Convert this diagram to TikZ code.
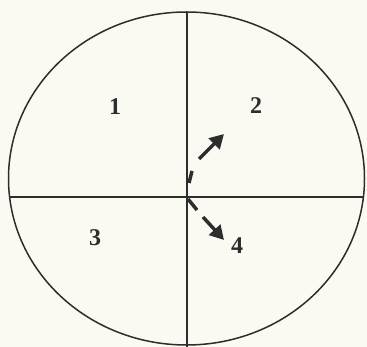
\documentclass[tikz,border=0pt]{standalone}
\usepackage{fontspec}
\setmainfont{Liberation Serif}
\usetikzlibrary{arrows.meta}
\definecolor{paper}{RGB}{250,250,243}
\definecolor{ink}{RGB}{45,45,45}
\tikzset{
  frameline/.style={draw=ink, line width=1.5pt},
  label/.style={font=\bfseries\fontsize{24}{24}\selectfont, text=ink, inner sep=0pt},
  movedash/.style={draw=ink, line width=3.5pt},
  movearrow/.style={draw=ink, line width=3.5pt, -{Triangle[length=14pt,width=15pt]}}
}
\begin{document}
\begin{tikzpicture}[x=1pt,y=-1pt]
\fill[paper] (0,0) rectangle (367,347);
\useasboundingbox (0,0) rectangle (367,347);
\draw[frameline] (186.5,178.5) ellipse [x radius=178, y radius=166.5];
\coordinate (vt) at (187,12);
\coordinate (vb) at (187,347);
\coordinate (hl) at (9,197);
\coordinate (hr) at (364,197);
\draw[frameline] (vt) -- (vb);
\draw[frameline] (hl) -- (hr);
\node[label] (q1) at (115,107) {1};
\node[label] (q2) at (256,106) {2};
\node[label] (q3) at (95,238) {3};
\node[label] (q4) at (237,246) {4};
\coordinate (ua) at (189,183);
\coordinate (ub) at (192,171);
\coordinate (uc) at (199,159);
\coordinate (ud) at (224,134);
\coordinate (la) at (188,199);
\coordinate (lb) at (197,210);
\coordinate (lc) at (203,217);
\coordinate (ld) at (224,240);
\draw[movedash] (ua) -- (ub);
\draw[movearrow] (uc) -- (ud);
\draw[movedash] (la) -- (lb);
\draw[movearrow] (lc) -- (ld);
\end{tikzpicture}
\end{document}
